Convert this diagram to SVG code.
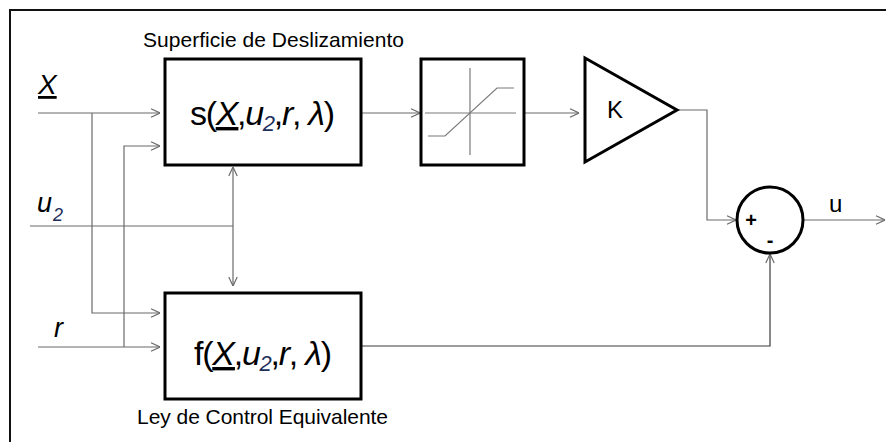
<svg xmlns="http://www.w3.org/2000/svg" width="886" height="442" viewBox="0 0 886 442">
<style>
  .blk{fill:#fff;stroke:#000;stroke-width:3}
  .con{fill:none;stroke:#6b6b6b;stroke-width:1.2}
  .dark{stroke:#3a3a3a}
  .ax{fill:none;stroke:#7a7a7a;stroke-width:1.2}
  text{font-family:"Liberation Sans",Arial,sans-serif;fill:#000}
  .it{font-style:italic}
  .sub{fill:#1c2f5c}
</style>
<defs>
  <marker id="arr" viewBox="0 0 10 10" refX="10" refY="5" markerWidth="10" markerHeight="10" markerUnits="userSpaceOnUse" orient="auto">
    <path d="M1,0.8 L10,5 L1,9.2" fill="none" stroke="#6b6b6b" stroke-width="1.2"/>
  </marker>
</defs>
<rect width="886" height="442" fill="#fff"/>
<path d="M10,442 V10 H886" fill="none" stroke="#111" stroke-width="2"/>

<g id="connectors">
  <path class="con" d="M38,113 H160" marker-end="url(#arr)"/>
  <path class="con" d="M92,113 V313 H160" marker-end="url(#arr)"/>
  <path class="con" d="M38,347 H160" marker-end="url(#arr)"/>
  <path class="con" d="M124,347 V146 H160" marker-end="url(#arr)"/>
  <path class="con" d="M30,226 H233"/>
  <path class="con" d="M233,226 V167" marker-end="url(#arr)"/>
  <path class="con" d="M233,226 V286" marker-end="url(#arr)"/>
  <path class="con" d="M361,113 H420" marker-end="url(#arr)"/>
  <path class="con" d="M524,113 H579" marker-end="url(#arr)"/>
  <path class="con" d="M677,110 H707 V220 H736" marker-end="url(#arr)"/>
  <path class="con" d="M803,220 H885" marker-end="url(#arr)"/>
  <path class="con dark" d="M361,346 H770 V254" marker-end="url(#arr)"/>
</g>

<g id="inputs">
  <text x="38" y="94" font-size="28" class="it" text-decoration="underline">X</text>
  <text x="37" y="212" font-size="27" class="it">u</text>
  <text x="53" y="221" font-size="18" class="it sub">2</text>
  <text x="54" y="337" font-size="27" class="it">r</text>
</g>

<g id="s-block">
  <rect class="blk" x="165" y="59" width="196" height="106"/>
  <text x="190" y="125" font-size="34" textLength="145" lengthAdjust="spacing">s(<tspan class="it" text-decoration="underline">X</tspan>,<tspan class="it">u</tspan><tspan class="it sub" font-size="22" dy="6">2</tspan><tspan dy="-6">,</tspan><tspan class="it">r</tspan>, <tspan class="it">λ</tspan>)</text>
  <text x="143" y="47" font-size="21" textLength="261" lengthAdjust="spacing">Superficie de Deslizamiento</text>
</g>

<g id="f-block">
  <rect class="blk" x="165" y="293" width="196" height="106"/>
  <text x="194" y="365" font-size="34" textLength="138" lengthAdjust="spacing">f(<tspan class="it" text-decoration="underline">X</tspan>,<tspan class="it">u</tspan><tspan class="it sub" font-size="22" dy="6">2</tspan><tspan dy="-6">,</tspan><tspan class="it">r</tspan>, <tspan class="it">λ</tspan>)</text>
  <text x="137" y="424" font-size="21" textLength="251" lengthAdjust="spacing">Ley de Control Equivalente</text>
</g>

<g id="saturation">
  <rect class="blk" x="421" y="59" width="103" height="106"/>
  <path class="ax" d="M425,113 H516 M470,68 V155"/>
  <path class="ax" d="M428,136 H445 L497,88 H514"/>
</g>

<g id="gain">
  <path class="blk" d="M585,58 L677,110 L585,162 Z" stroke-linejoin="miter"/>
  <text x="607" y="118" font-size="24">K</text>
</g>

<g id="sum">
  <circle class="blk" cx="770" cy="220" r="33"/>
  <text x="751" y="227" font-size="20" font-weight="bold" text-anchor="middle">+</text>
  <text x="770" y="247" font-size="20" font-weight="bold" text-anchor="middle">-</text>
</g>

<g id="output">
  <text x="829" y="212" font-size="24">u</text>
</g>
</svg>
